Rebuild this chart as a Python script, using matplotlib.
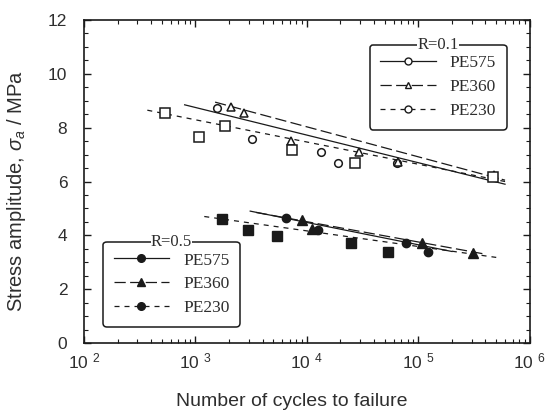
import numpy as np
import matplotlib
matplotlib.use("Agg")
import matplotlib.pyplot as plt
from matplotlib.lines import Line2D
from matplotlib.ticker import FixedLocator, MultipleLocator, LogLocator, NullFormatter

plt.rcParams["font.family"] = ["Liberation Sans", "DejaVu Sans"]
plt.rcParams["mathtext.fontset"] = "custom"
plt.rcParams["mathtext.it"] = "Liberation Sans:italic"
plt.rcParams["mathtext.rm"] = "Liberation Sans"

# ---------------- data ----------------
# R = 0.1 (open markers)
r1_pe575_n = [1550, 3200, 13500, 19000, 64000, 470000]
r1_pe575_s = [8.74, 7.58, 7.10, 6.70, 6.70, 6.17]
r1_pe360_n = [2100, 2700, 7200, 29500, 66000, 480000]
r1_pe360_s = [8.77, 8.55, 7.50, 7.10, 6.73, 6.25]
r1_pe230_n = [530, 1070, 1840, 7300, 27000, 470000]
r1_pe230_s = [8.55, 7.66, 8.07, 7.17, 6.69, 6.17]

# R = 0.5 (filled markers)
r5_pe575_n = [6500, 12600, 77000, 122000]
r5_pe575_s = [4.65, 4.20, 3.72, 3.38]
r5_pe360_n = [9000, 11200, 107000, 310000]
r5_pe360_s = [4.57, 4.24, 3.72, 3.35]
r5_pe230_n = [1740, 2970, 5350, 25000, 53000]
r5_pe230_s = [4.61, 4.20, 3.98, 3.72, 3.38]

# fit lines (end points)
r1_fit575_n = [800, 600000];   r1_fit575_s = [8.85, 5.90]
r1_fit360_n = [1500, 600000];  r1_fit360_s = [8.95, 6.05]
r1_fit230_n = [370, 600000];   r1_fit230_s = [8.65, 6.00]
r5_fit575_n = [3100, 200000];  r5_fit575_s = [4.90, 3.40]
r5_fit360_n = [3500, 400000];  r5_fit360_s = [4.85, 3.30]
r5_fit230_n = [1200, 500000];  r5_fit230_s = [4.70, 3.18]

labels = ["PE575", "PE360", "PE230"]
xtick_exps = [2, 3, 4, 5, 6]

# ---------------- figure ----------------
fig = plt.figure(figsize=(5.49, 4.13), dpi=100)
ax = fig.add_axes([0.153, 0.1695, 0.812, 0.782])
ink = "#1a1a1a"
txt = "#2e2e2e"

solid = "-"
dashdot = (0, (9, 3.5))
dashed = (0, (4, 4))
lw = 0.9

# fit lines
ax.plot(r1_fit575_n, r1_fit575_s, color=ink, lw=lw, ls=solid)
ax.plot(r1_fit360_n, r1_fit360_s, color=ink, lw=lw, ls=dashdot)
ax.plot(r1_fit230_n, r1_fit230_s, color=ink, lw=lw, ls=dashed)
ax.plot(r5_fit575_n, r5_fit575_s, color=ink, lw=lw, ls=solid)
ax.plot(r5_fit360_n, r5_fit360_s, color=ink, lw=lw, ls=dashdot)
ax.plot(r5_fit230_n, r5_fit230_s, color=ink, lw=lw, ls=dashed)

# markers R=0.1
ax.plot(r1_pe575_n, r1_pe575_s, ls="none", marker="o", ms=5.5, mfc="white", mec=ink, mew=1.1)
ax.plot(r1_pe360_n, r1_pe360_s, ls="none", marker="^", ms=5.5, mfc="white", mec=ink, mew=1.1)
ax.plot(r1_pe230_n, r1_pe230_s, ls="none", marker="s", ms=7.5, mfc="white", mec=ink, mew=1.1)
# markers R=0.5
ax.plot(r5_pe575_n, r5_pe575_s, ls="none", marker="o", ms=6, mfc=ink, mec=ink)
ax.plot(r5_pe360_n, r5_pe360_s, ls="none", marker="^", ms=6.5, mfc=ink, mec=ink)
ax.plot(r5_pe230_n, r5_pe230_s, ls="none", marker="s", ms=7.5, mfc=ink, mec=ink)

ax.set_xscale("log")
ax.set_xlim(1e2, 1e6)
ax.set_ylim(0, 12)

ax.xaxis.set_major_locator(FixedLocator([10.0 ** e for e in xtick_exps]))
ax.xaxis.set_minor_locator(LogLocator(base=10, subs=np.arange(2, 10)))
ax.xaxis.set_minor_formatter(NullFormatter())
ax.set_xticks([10.0 ** e for e in xtick_exps])
ax.set_xticklabels([r"10$^{\ \,%d}$" % e for e in xtick_exps])
ax.yaxis.set_major_locator(MultipleLocator(2))
ax.yaxis.set_minor_locator(MultipleLocator(0.5))

ax.tick_params(which="both", direction="in", top=True, right=True, colors=ink,
               labelcolor=txt)
ax.tick_params(which="major", length=5, width=1.0, labelsize=12.5)
ax.tick_params(axis="y", which="major", pad=12)
ax.tick_params(axis="x", which="major", pad=6)
ax.tick_params(which="minor", length=3, width=0.8)
for sp in ax.spines.values():
    sp.set_linewidth(1.2)
    sp.set_color(ink)

ax.set_xlabel("Number of cycles to failure", fontsize=14, color=txt, labelpad=3)
ax.xaxis.set_label_coords(0.465, -0.155)
ax.set_ylabel(r"Stress amplitude, $\sigma_a$ / MPa", fontsize=14.5, color=txt)
ax.yaxis.set_label_coords(-0.125, 0.47)

# ---------------- legends ----------------
serif = "Liberation Serif"
h1 = [Line2D([], [], color=ink, lw=lw, ls=solid, marker="o", ms=5, mfc="white", mec=ink),
      Line2D([], [], color=ink, lw=lw, ls=dashdot, marker="^", ms=5, mfc="white", mec=ink),
      Line2D([], [], color=ink, lw=lw, ls=dashed, marker="o", ms=5, mfc="white", mec=ink)]
h5 = [Line2D([], [], color=ink, lw=lw, ls=solid, marker="o", ms=5.5, mfc=ink, mec=ink),
      Line2D([], [], color=ink, lw=lw, ls=dashdot, marker="^", ms=5.5, mfc=ink, mec=ink),
      Line2D([], [], color=ink, lw=lw, ls=dashed, marker="o", ms=5.5, mfc=ink, mec=ink)]

legkw = dict(prop={"family": serif, "size": 12.5}, handlelength=3.2, handletextpad=0.8,
             labelspacing=0.45, borderpad=0.6, borderaxespad=0, fancybox=True,
             framealpha=1, edgecolor=ink)
leg1 = ax.legend(h1, labels, loc="upper right", bbox_to_anchor=(0.948, 0.923), **legkw)
leg1.get_frame().set_linewidth(1.1)
ax.add_artist(leg1)
leg5 = ax.legend(h5, labels, loc="lower left", bbox_to_anchor=(0.043, 0.05), **legkw)
leg5.get_frame().set_linewidth(1.1)
for t in leg1.get_texts() + leg5.get_texts():
    t.set_color(txt)

fig.canvas.draw()
inv = ax.transAxes.inverted()
for leg, title in [(leg1, "R=0.1"), (leg5, "R=0.5")]:
    bb = leg.get_frame().get_window_extent()
    (x0, y0), (x1, y1) = inv.transform([[bb.x0, bb.y0], [bb.x1, bb.y1]])
    ax.text((x0 + x1) / 2, y1, title, transform=ax.transAxes, ha="center", va="center",
            fontsize=12, family=serif, color=txt, zorder=10,
            bbox=dict(facecolor="white", edgecolor="none", pad=0.3))

fig.savefig("out.png", dpi=100)
